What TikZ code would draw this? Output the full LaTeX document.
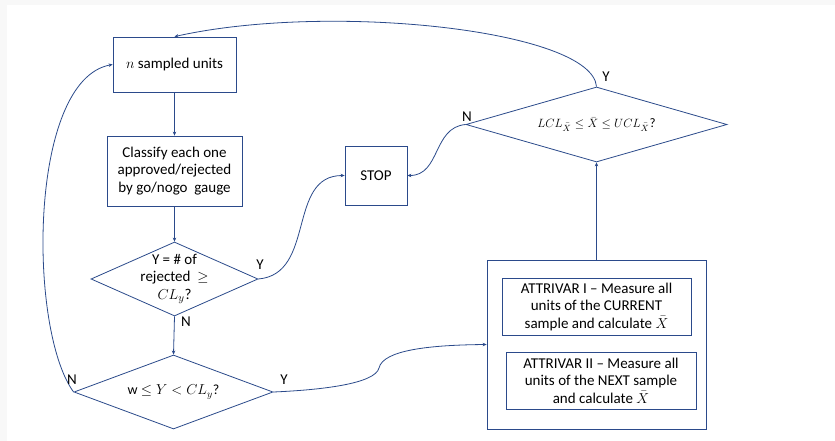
\documentclass[tikz,border=0pt]{standalone}
\usepackage{fontspec}
\setmainfont{Carlito}
\usetikzlibrary{arrows.meta,shapes.geometric}
\definecolor{ln}{HTML}{2B4A8B}
\definecolor{bgg}{HTML}{F8F8F8}
\begin{document}
\begin{tikzpicture}[x=1pt,y=-1pt,
  box/.style={draw=ln, line width=0.8pt, align=center, font=\fontsize{15}{17.5}\selectfont, inner sep=0pt},
  dia/.style={draw=ln, line width=0.8pt, diamond, inner sep=0pt},
  txt/.style={align=center, font=\fontsize{15}{17.5}\selectfont, inner sep=0pt},
  conn/.style={draw=ln, line width=0.8pt, -{Stealth[length=4pt,width=3.5pt]}},
  lab/.style={font=\fontsize{15}{15}\selectfont, inner sep=0pt}]
\fill[bgg] (0,0) rectangle (835,441);
\fill[white] (7,5) rectangle (835,441);
\useasboundingbox (0,0) rectangle (835,441);

\node[box, minimum width=123, minimum height=55] (n) at (174.5,64.5) {$n$ sampled units};
\node[box, minimum width=135, minimum height=70] (cl) at (174.5,171) {Classify each one\\approved/rejected\\by go/nogo~ gauge};
\node[dia, minimum width=167, minimum height=74] (d1) at (174.5,279) {};
\node[txt] at (d1) {Y = \# of\\rejected ~$\ge$\\$CL_y$?};
\node[dia, minimum width=199, minimum height=74] (d2) at (173.5,392) {};
\node[txt, font=\fontsize{14}{17}\selectfont] at (d2) {w $\le Y < CL_y$?};
\node[box, minimum width=62, minimum height=59] (stop) at (376,175.5) {STOP};
\node[dia, minimum width=261, minimum height=75] (d3) at (596.5,124.5) {};
\node[txt, font=\fontsize{13}{17}\selectfont] at (d3) {$LCL_{\bar X} \le \bar X \le UCL_{\bar X}$?};
\node[box, minimum width=219, minimum height=169] (big) at (596.5,344.5) {};
\node[box, minimum width=189, minimum height=57] (a1) at (596.5,306.5) {ATTRIVAR I -- Measure all\\units of the CURRENT\\sample and calculate $\bar X$};
\node[box, minimum width=190, minimum height=57] (a2) at (601,380.5) {ATTRIVAR II -- Measure all\\units of the NEXT sample\\and calculate $\bar X$};

\draw[conn] (n.south) -- (cl.north);
\draw[conn] (cl.south) -- (d1.north);
\draw[conn] (d1.south) -- (d2.north);
\draw[conn] (big.north) -- (d3.south);
\draw[conn] (d1.east) to[out=5,in=180,looseness=1.1] (stop.west);
\draw[conn] (d3.west) to[out=185,in=0,looseness=1.1] (stop.east);
\draw[conn] (d2.east) .. controls (320,390) and (375,384) .. (379,368) .. controls (383,350) and (430,345) .. (big.west);
\draw[conn] (d3.north) .. controls (592,30) and (330,2) .. (n.north);
\draw[conn] (d2.west) .. controls (28,330) and (28,80) .. (n.west);

\node[lab] (y1) at (260,265) {Y};
\node[lab] (n1) at (186,322) {N};
\node[lab] (n2) at (72,380) {N};
\node[lab] (y2) at (284,380) {Y};
\node[lab] (n3) at (467,117) {N};
\node[lab] (y3) at (606,77) {Y};
\end{tikzpicture}
\end{document}
